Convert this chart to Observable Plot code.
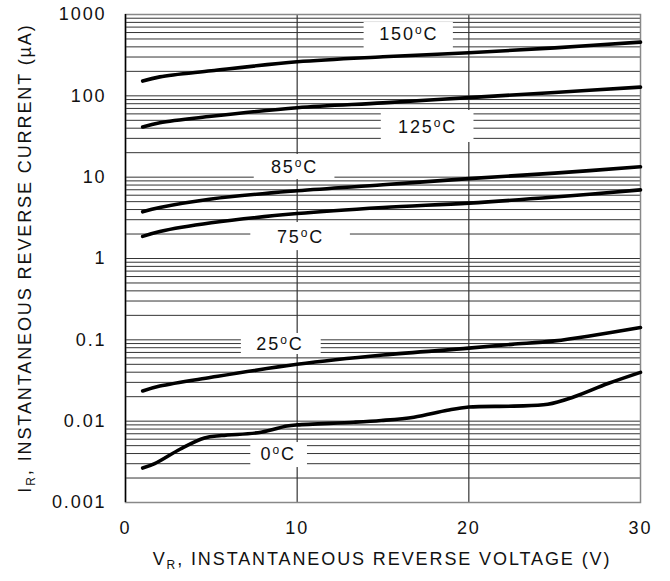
<!DOCTYPE html>
<html><head><meta charset="utf-8">
<script src="https://cdn.jsdelivr.net/npm/d3@7"></script>
<script src="https://cdn.jsdelivr.net/npm/@observablehq/plot@0.6"></script>
<style>
body{margin:0;background:#fff}
svg{font-family:"Liberation Sans",Arial,sans-serif}
svg text{letter-spacing:1.9px}
</style>
</head><body><div id="chart"></div>
<script>
// Reverse voltage (V) sample points
const vStd = [1, 2, 5, 10, 15, 20, 25, 30];
const i150 = [152, 171, 203, 262, 302, 338, 389, 458];
const i125 = [41.4, 46.8, 56, 71.5, 82, 95, 110, 128];
const i85  = [3.75, 4.24, 5.4, 6.8, 8.05, 9.6, 11.2, 13.4];
const i75  = [1.87, 2.15, 2.75, 3.57, 4.24, 4.8, 5.7, 6.98];
const v25  = [1, 2, 5, 10, 15, 20, 22.5, 25, 30];
const i25  = [0.0235, 0.027, 0.0346, 0.05, 0.065, 0.079, 0.088, 0.097, 0.142];
const v0   = [1, 1.7, 3.2, 4.6, 5.6, 7.9, 9.4, 10, 13.3, 14.9, 16.8, 18.75, 20, 22.6, 24.6, 26.1, 28.1, 30];
const i0   = [0.00265, 0.0030, 0.00455, 0.0062, 0.00665, 0.0073, 0.0087, 0.0090, 0.0097, 0.0102, 0.0112, 0.0136, 0.0149, 0.0153, 0.0161, 0.0198, 0.029, 0.0398];

// Temperature labels (annotation anchors in data units)
const labelText = ["150", "125", "85", "75", "25", "0"];
const labelX    = [16.5, 17.6, 9.85, 10.2, 9.0, 8.9];
const labelY    = [568, 40.8, 13.2, 1.81, 0.0876, 0.00389];
const boxX1     = [13.9, 14.9, 7.5, 7.3, 6.75, 7.3];
const boxX2     = [19.1, 20.3, 12.2, 13.1, 11.4, 10.6];
const boxY1     = [382, 26.7, 9.35, 1.25, 0.066, 0.00269];
const boxY2     = [797, 66, 19.0, 2.77, 0.1197, 0.00546];

// Axis ticks
const xTicks = [0, 10, 20, 30];
const yTicks = [0.001, 0.01, 0.1, 1, 10, 100, 1000];
const yTickLabels = ["0.001", "0.01", "0.1", "1", "10", "100", "1000"];
const minorMult = [1, 2, 3, 4, 5, 6, 7, 8, 9];

const series = [
  {v: vStd, i: i150}, {v: vStd, i: i125}, {v: vStd, i: i85},
  {v: vStd, i: i75}, {v: v25, i: i25}, {v: v0, i: i0}
];
const lineData = series.flatMap((s, k) => s.v.map((v, j) => ({v, i: s.i[j], k})));
const labels = labelText.map((t, j) => ({t: t + "oC", x: labelX[j], y: labelY[j], x1: boxX1[j], x2: boxX2[j], y1: boxY1[j], y2: boxY2[j]}));
const grid = yTicks.slice(0, -1).flatMap(d => minorMult.map(m => d * m)).concat([1000]);

const chart = Plot.plot({
  width: 670, height: 581,
  marginLeft: 125, marginRight: 30, marginTop: 14, marginBottom: 79,
  style: {fontSize: "18px", fontFamily: '"Liberation Sans", Arial, sans-serif', color: "#111", background: "white"},
  x: {domain: [0, 30], label: null},
  y: {type: "log", domain: [0.001, 1000], label: null},
  marks: [
    Plot.ruleY(grid, {stroke: "#111", strokeWidth: 1, strokeOpacity: 0.85}),
    Plot.ruleX([10, 20], {stroke: "#333", strokeWidth: 1.2}),
    Plot.rect(labels, {x1: "x1", x2: "x2", y1: "y1", y2: "y2", fill: "white"}),
    Plot.frame({stroke: "#888", strokeWidth: 1.5}),
    Plot.ruleX([0], {stroke: "#000", strokeWidth: 1.5}),
    Plot.axisX({ticks: xTicks, tickSize: 0, tickPadding: 19, tickFormat: d => String(d)}),
    Plot.axisY({ticks: yTicks, tickSize: 0, tickPadding: 19, tickFormat: d => yTickLabels[yTicks.indexOf(d)]}),
    Plot.line(lineData, {x: "v", y: "i", z: "k", stroke: "#000", strokeWidth: 3.6, curve: "catmull-rom"}),
    Plot.text(labels, {x: "x", y: "y", text: "t", fill: "#111", fontSize: 18, textAnchor: "middle"})
  ]
});
document.getElementById("chart").appendChild(chart);

const svg = d3.select(chart);
// superscript "o" in temperature labels
svg.selectAll("text").each(function() {
  const el = d3.select(this);
  const s = this.textContent;
  const m = /^(\d+)oC$/.exec(s);
  if (m && this.children.length === 0) {
    el.text(m[1]);
    el.append("tspan").attr("font-size", 12).attr("dy", -6).text("o");
    el.append("tspan").attr("dy", 6).text("C");
  }
});

// axis titles
const xt = svg.append("text").attr("x", 382).attr("y", 565).attr("text-anchor", "middle")
  .attr("font-size", 18).attr("fill", "#111");
xt.append("tspan").text("V");
xt.append("tspan").attr("font-size", 12).attr("dy", 4).text("R");
xt.append("tspan").attr("dy", -4).text(", INSTANTANEOUS REVERSE VOLTAGE (V)");

const yt = svg.append("text").attr("transform", "translate(31,258) rotate(-90)").attr("text-anchor", "middle")
  .attr("font-size", 18).attr("fill", "#111");
yt.append("tspan").text("I");
yt.append("tspan").attr("font-size", 12).attr("dy", 4).text("R");
yt.append("tspan").attr("dy", -4).text(", INSTANTANEOUS REVERSE CURRENT (µA)");
</script>
</body></html>
